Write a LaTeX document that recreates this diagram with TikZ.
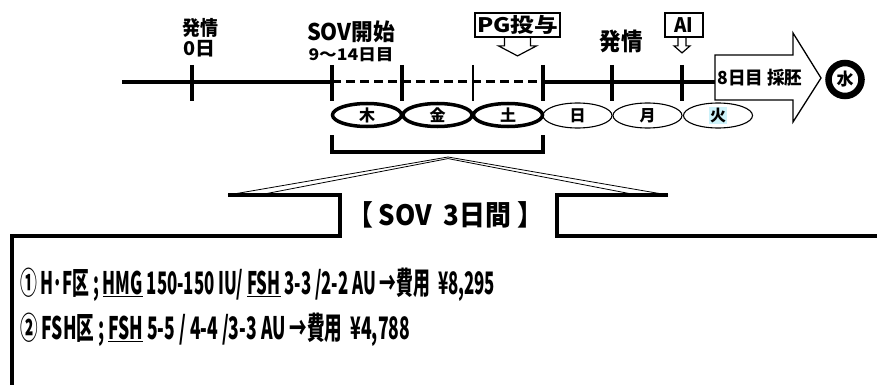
\documentclass[tikz,border=0pt]{standalone}
\usepackage{fontspec}
\setmainfont{Noto Sans CJK JP}
\usetikzlibrary{shapes.geometric}
\definecolor{hl}{RGB}{205,242,250}
\newcommand\fitw[2]{\resizebox{#1}{\height}{#2}}
\newcommand\fsz[1]{\fontsize{#1}{#1}\selectfont}
\begin{document}
\begin{tikzpicture}[x=1pt,y=-1pt,
  lab/.style={inner sep=0pt,font=\bfseries},
  axisline/.style={line width=4pt},
  tickline/.style={line width=4.5pt},
  thickell/.style={ellipse,draw,line width=3.5pt,minimum width=69pt,minimum height=23pt,inner sep=0pt,font=\bfseries\fsz{16}},
  thinell/.style={ellipse,draw,line width=1.1pt,minimum width=69pt,minimum height=25pt,inner sep=0pt,font=\bfseries\fsz{16}},
  callbox/.style={draw,line width=1.8pt,inner sep=0pt,font=\bfseries\fsz{20}},
  outline/.style={line width=4.8pt},
  wedge/.style={line width=0.8pt}]
\useasboundingbox (0,0) rectangle (877,385);
% labels
\node[lab,font=\bfseries\fsz{20}] (h1) at (200,28) {\fitw{36pt}{発情}};
\node[lab,font=\bfseries\fsz{19}] (d0) at (199,49) {\fitw{32pt}{0日}};
\node[lab,font=\bfseries\fsz{23}] (sov) at (351,32) {\fitw{88pt}{SOV開始}};
\node[lab,font=\bfseries\fsz{16}] (d914) at (351,55) {\fitw{85pt}{9～14日目}};
\node[lab,font=\bfseries\fsz{24}] (h2) at (621,41) {\fitw{43pt}{発情}};
% axis
\coordinate (L0) at (122,82);
\coordinate (T0) at (192,82);
\coordinate (T1) at (332,82);
\coordinate (T2) at (402,82);
\coordinate (T3) at (473,82);
\coordinate (T4) at (543,82);
\coordinate (T5) at (612,82);
\coordinate (T6) at (682,82);
\coordinate (E) at (715,82);
\draw[axisline] (L0) -- (T1);
\draw[line width=3pt,dash pattern=on 9pt off 5pt] (T1) -- (T4);
\draw[axisline] (T4) -- (E);
\foreach \t in {T0,T1,T2,T4,T5,T6}
  \draw[tickline] (\t) ++(0,-17) -- ++(0,36);
\draw[line width=2.5pt] (T3) ++(0,-17) -- ++(0,36);
% ellipses
\node[thickell] (thu) at (367,115) {木};
\node[thickell] (fri) at (437.5,115) {金};
\node[thickell] (sat) at (508,115) {土};
\node[thinell] (sun) at (577.5,115.5) {日};
\node[thinell] (mon) at (647.5,115.5) {月};
\node[thinell] (tue) at (718,115.5) {\setlength\fboxsep{0.8pt}\colorbox{hl}{火}};
% bracket
\coordinate (B1) at (332,135);
\coordinate (B2) at (543,135);
\draw[line width=4pt] (B1) -- (332,152) -- (543,152) -- (B2);
% big arrow
\draw[line width=1.3pt,fill=white] (715,55) -- (793,55) -- (793,33) -- (821,78) -- (793,122) -- (793,100) -- (715,100) -- cycle;
\node[lab,font=\bfseries\fsz{18}] (harvest) at (760,78) {\fitw{85pt}{8日目 採胚}};
\node[circle,draw,line width=6.5pt,minimum size=33pt,inner sep=0pt,font=\bfseries\fsz{17}] (wed) at (845,79.5) {水};
% callouts
\node[callbox,minimum width=85pt,minimum height=24pt] (pg) at (517.5,25) {\fitw{81pt}{PG投与}};
\draw[line width=1.2pt] (pg.south) ++(-13,0) -- ++(0,8) -- ++(-6,0) -- ++(19,10) -- ++(19,-10) -- ++(-6,0) -- ++(0,-8);
\node[callbox,minimum width=38pt,minimum height=24pt] (ai) at (684,25) {\fitw{19pt}{AI}};
\draw[line width=1.2pt] (ai.south) ++(-6,0) -- ++(0,8) -- ++(-4,0) -- ++(8,7) -- ++(8,-7) -- ++(-4,0) -- ++(0,-8);
% wedge and lower box
\coordinate (apex) at (448,157);
\draw[wedge] (228,195) -- (apex) -- (668,195);
\draw[wedge] (259,195) -- (448,158.6) -- (637,195);
\draw[outline] (12,390) -- (12,236) -- (340,236) -- (340,195) -- (228,195);
\draw[outline] (668,195) -- (557,195) -- (557,236) -- (882,236);
\node[lab,font=\bfseries\fsz{28}] (sov3) at (445,215) {\fitw{196pt}{【 SOV\ \ 3日間 】}};
% text lines
\node[lab,font=\bfseries\fsz{31},anchor=west] (line1) at (20,285) {\fitw{475pt}{① H･F区 ; \underline{HMG} 150-150 IU/ \underline{FSH} 3-3 /2-2 AU →費用\ \ ¥8,295}};
\node[lab,font=\bfseries\fsz{31},anchor=west] (line2) at (20,330) {\fitw{390pt}{② FSH区 ; \underline{FSH} 5-5 / 4-4 /3-3 AU →費用\ \ ¥4,788}};
\end{tikzpicture}
\end{document}
